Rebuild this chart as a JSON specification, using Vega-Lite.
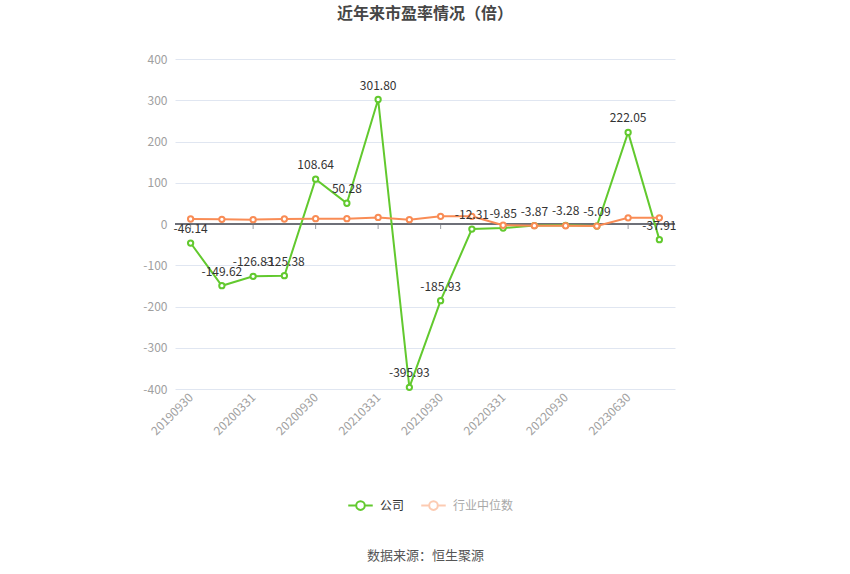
{
  "$schema": "https://vega.github.io/schema/vega-lite/v6.json",
  "width": 500,
  "height": 330,
  "padding": {"left": 142, "top": 6, "right": 10, "bottom": 5},
  "background": "white",
  "config": {
    "font": "Noto Sans CJK SC",
    "view": {"stroke": null}
  },
  "title": {
    "text": "近年来市盈率情况（倍）",
    "fontSize": 16,
    "fontWeight": "bold",
    "color": "#464646",
    "anchor": "middle",
    "offset": 31
  },
  "data": {
    "values": [
      {"date": "20190930", "series": "公司", "value": -46.14},
      {"date": "20191231", "series": "公司", "value": -149.62},
      {"date": "20200331", "series": "公司", "value": -126.83},
      {"date": "20200630", "series": "公司", "value": -125.38},
      {"date": "20200930", "series": "公司", "value": 108.64},
      {"date": "20201231", "series": "公司", "value": 50.28},
      {"date": "20210331", "series": "公司", "value": 301.80},
      {"date": "20210630", "series": "公司", "value": -395.93},
      {"date": "20210930", "series": "公司", "value": -185.93},
      {"date": "20211231", "series": "公司", "value": -12.31},
      {"date": "20220331", "series": "公司", "value": -9.85},
      {"date": "20220630", "series": "公司", "value": -3.87},
      {"date": "20220930", "series": "公司", "value": -3.28},
      {"date": "20221231", "series": "公司", "value": -5.09},
      {"date": "20230630", "series": "公司", "value": 222.05},
      {"date": "20230930", "series": "公司", "value": -37.91},
      {"date": "20190930", "series": "行业中位数", "value": 12.1},
      {"date": "20191231", "series": "行业中位数", "value": 11.4},
      {"date": "20200331", "series": "行业中位数", "value": 10.6},
      {"date": "20200630", "series": "行业中位数", "value": 12.1},
      {"date": "20200930", "series": "行业中位数", "value": 12.8},
      {"date": "20201231", "series": "行业中位数", "value": 12.8},
      {"date": "20210331", "series": "行业中位数", "value": 16.0},
      {"date": "20210630", "series": "行业中位数", "value": 10.5},
      {"date": "20210930", "series": "行业中位数", "value": 18.5},
      {"date": "20211231", "series": "行业中位数", "value": 18.5},
      {"date": "20220331", "series": "行业中位数", "value": -3.0},
      {"date": "20220630", "series": "行业中位数", "value": -4.0},
      {"date": "20220930", "series": "行业中位数", "value": -4.2},
      {"date": "20221231", "series": "行业中位数", "value": -5.0},
      {"date": "20230630", "series": "行业中位数", "value": 15.0},
      {"date": "20230930", "series": "行业中位数", "value": 15.0}
    ]
  },
  "encoding": {
    "x": {
      "field": "date",
      "type": "ordinal",
      "sort": null,
      "scale": {
        "type": "point",
        "padding": 0.5,
        "domain": ["20190930", "20191231", "20200331", "20200630", "20200930", "20201231", "20210331", "20210630", "20210930", "20211231", "20220331", "20220630", "20220930", "20221231", "20230630", "20230930"]
      },
      "axis": {
        "title": "数据来源：恒生聚源",
        "titleFontSize": 13,
        "titleFontWeight": "normal",
        "titleColor": "#555",
        "titlePadding": 113,
        "values": ["20190930", "20200331", "20200930", "20210331", "20210930", "20220331", "20220930", "20230630"],
        "labelAngle": -45,
        "labelAlign": "right",
        "labelBaseline": "middle",
        "labelColor": "#a0a0a0",
        "labelFontSize": 12,
        "labelPadding": 6,
        "domain": false,
        "ticks": false,
        "grid": false
      }
    },
    "y": {
      "field": "value",
      "type": "quantitative",
      "scale": {"domain": [-400, 400], "nice": false},
      "axis": {
        "title": null,
        "values": [-400, -300, -200, -100, 0, 100, 200, 300, 400],
        "labelExpr": "datum.value < 0 ? '-' + abs(datum.value) : '' + datum.value",
        "labelColor": "#a0a0a0",
        "labelFontSize": 12,
        "labelPadding": 8,
        "domain": false,
        "ticks": false,
        "gridColor": "#e0e6f1"
      }
    }
  },
  "layer": [
    {
      "mark": {"type": "rule", "color": "#6e7079", "strokeWidth": 1},
      "encoding": {"y": {"datum": 0}, "x": {"value": 0}, "x2": {"value": 500}}
    },
    {
      "transform": [
        {"filter": "datum.series == '公司'"},
        {"filter": {"field": "date", "oneOf": ["20190930", "20200331", "20200930", "20210331", "20210930", "20220331", "20220930", "20230630"]}}
      ],
      "mark": {"type": "tick", "orient": "vertical", "size": 5, "thickness": 1, "color": "#6e7079", "yOffset": 2.5},
      "encoding": {"y": {"datum": 0}}
    },
    {
      "transform": [{"filter": "datum.series == '公司'"}],
      "mark": {
        "type": "line",
        "strokeWidth": 2,
        "point": {"filled": false, "fill": "white", "size": 28, "strokeWidth": 2}
      },
      "encoding": {
        "color": {
          "field": "series",
          "type": "nominal",
          "scale": {"domain": ["公司", "行业中位数"], "range": ["#62c92e", "#f98c55"]},
          "legend": {
            "title": null,
            "orient": "none",
            "direction": "horizontal",
            "legendX": 172,
            "legendY": 433,
            "symbolType": "M-1,0L-0.35,0M0.35,0L1,0M-0.35,0A0.35,0.35 0 1,0 0.35,0A0.35,0.35 0 1,0 -0.35,0Z",
            "symbolSize": 600,
            "symbolStrokeWidth": 2,
            "symbolFillColor": "white",
            "labelFontSize": 12,
            "columnPadding": 12,
            "labelOffset": 6,
            "encode": {
              "labels": {"update": {"fill": {"signal": "datum.value == '公司' ? '#333333' : '#a8a8a8'"}}},
              "symbols": {"update": {"strokeOpacity": {"signal": "datum.value == '公司' ? 1 : 0.45"}}}
            }
          }
        }
      }
    },
    {
      "transform": [{"filter": "datum.series == '行业中位数'"}],
      "mark": {
        "type": "line",
        "strokeWidth": 2,
        "point": {"filled": false, "fill": "white", "size": 28, "strokeWidth": 2}
      },
      "encoding": {
        "color": {"field": "series", "type": "nominal"}
      }
    },
    {
      "transform": [{"filter": "datum.series == '公司'"}],
      "mark": {
        "type": "text",
        "dy": -14,
        "fontSize": 12,
        "color": "#333333",
        "text": {"expr": "replace(format(datum.value, '.2f'), '\u2212', '-')"}
      }
    }
  ]
}
